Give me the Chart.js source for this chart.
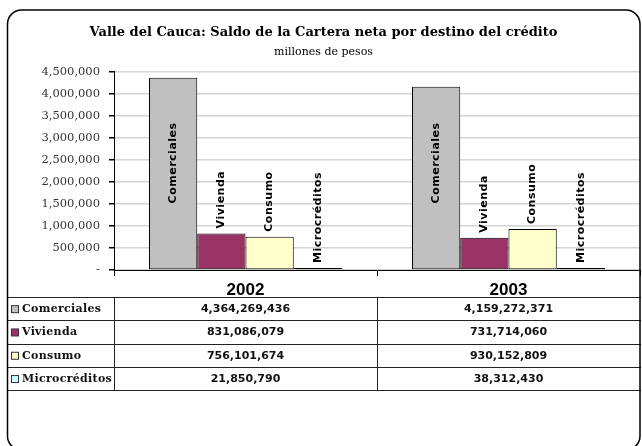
<!DOCTYPE html>
<html>
<head>
<meta charset="utf-8">
<script src="https://cdn.jsdelivr.net/npm/chart.js@4"></script>
<style>
  html, body { margin: 0; padding: 0; background: #fff; }
  #wrap { width: 642px; height: 446px; }
</style>
</head>
<body>
<div id="wrap"><canvas id="cartera" width="642" height="446"></canvas></div>
<script>
// years on the x axis
const years = ['2002', '2003'];
// credit destinations
const destinos = ['Comerciales', 'Vivienda', 'Consumo', 'Microcréditos'];
// saldo per destination, one value per year (pesos, as in the table)
const comerciales = [4364269436, 4159272371];
const vivienda = [831086079, 731714060];
const consumo = [756101674, 930152809];
const microcreditos = [21850790, 38312430];
const colores = ['#C0C0C0', '#993366', '#FFFFCC', '#CCFFFF'];

const series = [comerciales, vivienda, consumo, microcreditos];

// y axis is shown in thousands in the original
function fmt(v) {
    return v.toLocaleString('en-US');
}

// bar labels: written vertically above the bar, or inside when there is no room
const barLabels = {
    id: 'barLabels',
    afterDatasetsDraw(chart) {
        const ctx = chart.ctx;
        const area = chart.chartArea;
        ctx.save();
        ctx.font = 'bold 11px "DejaVu Sans"';
        ctx.letterSpacing = '0.5px';
        ctx.fillStyle = '#000';
        ctx.textBaseline = 'middle';
        chart.data.datasets.forEach((ds, di) => {
            const meta = chart.getDatasetMeta(di);
            meta.data.forEach(bar => {
                const w = ctx.measureText(ds.label).width;
                ctx.save();
                ctx.translate(bar.x, 0);
                ctx.rotate(-Math.PI / 2);
                if (bar.y - 5 - w >= area.top) {
                    ctx.textAlign = 'left';
                    ctx.fillText(ds.label, -(bar.y - 5), 0);
                } else {
                    ctx.textAlign = 'center';
                    ctx.fillText(ds.label, -((area.top + area.bottom) / 2 - 8), 0);
                }
                ctx.restore();
            });
        });
        ctx.restore();
    }
};

// data table under the plot plus the rounded frame
const dataTable = {
    id: 'dataTable',
    afterDraw(chart) {
        const ctx = chart.ctx;
        const area = chart.chartArea;
        const xs = chart.scales.x;
        const left = 7, right = 641;
        const top = 297, rowH = 23.3;
        const half = (xs.getPixelForTick(1) - xs.getPixelForTick(0)) / 2;

        ctx.save();
        // year headers
        ctx.fillStyle = '#000';
        ctx.font = 'bold 17px "Liberation Sans"';
        ctx.textAlign = 'center';
        ctx.textBaseline = 'alphabetic';
        years.forEach((y, i) => {
            ctx.fillText(y, xs.getPixelForTick(i), top - 2);
        });

        // grid of the table
        ctx.strokeStyle = '#222';
        ctx.lineWidth = 1;
        for (let r = 0; r <= destinos.length; r++) {
            const y = Math.round(top + r * rowH) + 0.5;
            ctx.beginPath();
            ctx.moveTo(left, y);
            ctx.lineTo(right, y);
            ctx.stroke();
        }
        const bottom = Math.round(top + destinos.length * rowH) + 0.5;
        [area.left, xs.getPixelForTick(0) + half].forEach(x => {
            x = Math.round(x) + 0.5;
            ctx.beginPath();
            ctx.moveTo(x, top);
            ctx.lineTo(x, bottom);
            ctx.stroke();
        });

        // rows
        destinos.forEach((name, r) => {
            const cy = top + r * rowH + rowH / 2 + 0.5;
            ctx.fillStyle = colores[r];
            ctx.fillRect(11.5, cy - 3.5, 7, 7);
            ctx.strokeStyle = '#333';
            ctx.strokeRect(11.5, cy - 3.5, 7, 7);

            ctx.fillStyle = '#111';
            ctx.font = 'bold 11px "DejaVu Serif"';
            ctx.letterSpacing = '0.3px';
            ctx.textAlign = 'left';
            ctx.textBaseline = 'middle';
            ctx.fillText(name, 22, cy);

            ctx.font = 'bold 11px "DejaVu Sans"';
            ctx.letterSpacing = '0px';
            ctx.textAlign = 'center';
            series[r].forEach((v, i) => {
                ctx.fillText(fmt(v), xs.getPixelForTick(i), cy);
            });
        });

        // rounded outer frame
        ctx.strokeStyle = '#000';
        ctx.lineWidth = 1.5;
        ctx.beginPath();
        ctx.roundRect(7.5, 10, 632.5, 440, 14);
        ctx.stroke();
        ctx.restore();
    }
};

const cartera = new Chart(document.getElementById('cartera').getContext('2d'), {
    type: 'bar',
    data: {
        labels: years,
        datasets: destinos.map((name, i) => ({
            label: name,
            data: series[i],
            backgroundColor: colores[i],
            borderColor: '#000',
            borderWidth: 1,
            borderSkipped: false,
            minBarLength: 2,
            categoryPercentage: 0.734,
            barPercentage: 1.0
        }))
    },
    options: {
        responsive: false,
        animation: false,
        layout: {
            padding: { left: 7, right: 2, top: 14, bottom: 170 }
        },
        plugins: {
            legend: { display: false },
            tooltip: { enabled: false },
            title: {
                display: true,
                text: 'Valle del Cauca: Saldo de la Cartera neta por destino del crédito',
                color: '#000',
                font: { family: 'DejaVu Serif', size: 13, weight: 'bold' },
                padding: { top: 11, bottom: 5 }
            },
            subtitle: {
                display: true,
                text: 'millones de pesos',
                color: '#000',
                font: { family: 'DejaVu Serif', size: 11 },
                padding: { top: 0, bottom: 13 }
            }
        },
        scales: {
            x: {
                offset: true,
                grid: {
                    offset: true,
                    drawOnChartArea: false,
                    tickLength: 6,
                    tickColor: '#000'
                },
                border: { color: '#000', width: 1 },
                ticks: { display: false }
            },
            y: {
                min: 0,
                max: 4500000000,
                ticks: {
                    stepSize: 500000000,
                    color: '#333',
                    padding: 9,
                    font: { family: 'DejaVu Serif', size: 11.5 },
                    callback: v => v === 0 ? '-' : fmt(v / 1000)
                },
                grid: {
                    color: '#d4d4d4',
                    lineWidth: 1.5,
                    tickLength: 5,
                    tickColor: '#000'
                },
                border: { color: '#000', width: 1 },
                afterFit: s => { s.width = 107; }
            }
        }
    },
    plugins: [barLabels, dataTable]
});
</script>
</body>
</html>
